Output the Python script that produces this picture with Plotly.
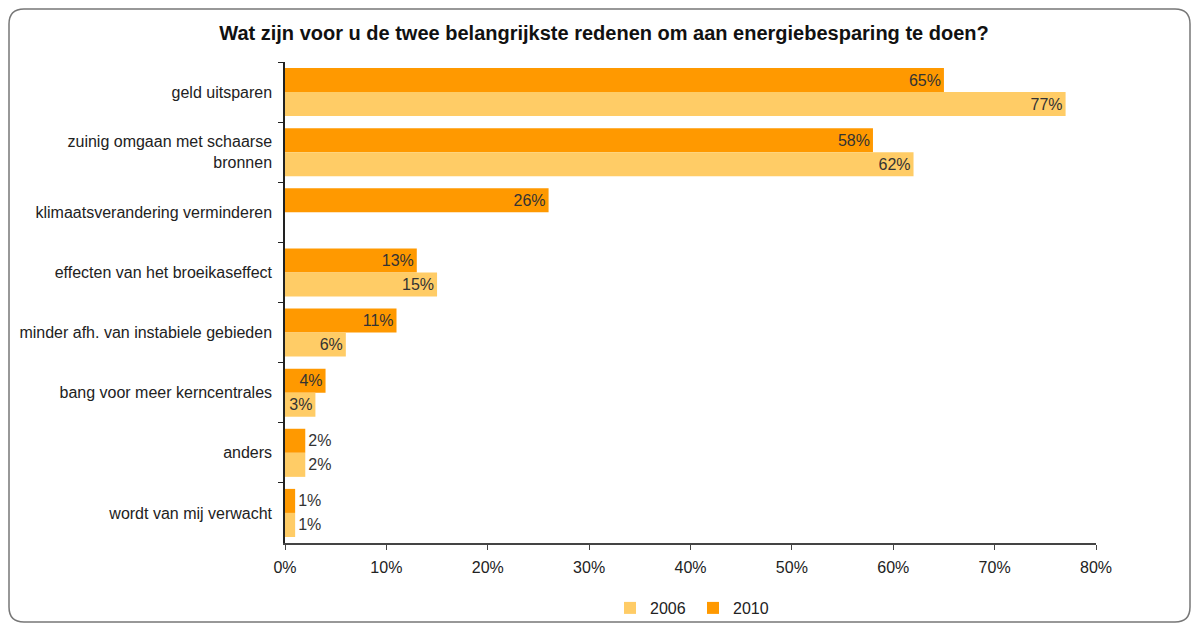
import plotly.graph_objects as go

categories = [
    "geld uitsparen",
    "zuinig omgaan met schaarse<br>bronnen",
    "klimaatsverandering verminderen",
    "effecten van het broeikaseffect",
    "minder afh. van instabiele gebieden",
    "bang voor meer kerncentrales",
    "anders",
    "wordt van mij verwacht",
]
values_2006 = [77, 62, None, 15, 6, 3, 2, 1]
values_2010 = [65, 58, 26, 13, 11, 4, 2, 1]
x_ticks = [0, 10, 20, 30, 40, 50, 60, 70, 80]

W, H = 1196, 626
L, R, T, B = 285, 1096, 62, 543
FONT = "Liberation Sans, Arial, sans-serif"


def px(x):
    return (x - L) / (R - L)


def py(y):
    return (B - y) / (B - T)


def labels(vals):
    return [f"{v}%" if v is not None else "" for v in vals]


def positions(vals):
    return ["inside" if (v is not None and v >= 3) else "outside" for v in vals]


fig = go.Figure()
fig.add_trace(go.Bar(
    y=categories, x=values_2010, name="2010", orientation="h",
    marker=dict(color="#FF9900", line=dict(width=0)),
    text=labels(values_2010), textposition=positions(values_2010),
    insidetextanchor="end", constraintext="none",
    textfont=dict(size=16, color="#333333", family=FONT),
    cliponaxis=False,
))
fig.add_trace(go.Bar(
    y=categories, x=values_2006, name="2006", orientation="h",
    marker=dict(color="#FFCC66", line=dict(width=0)),
    text=labels(values_2006), textposition=positions(values_2006),
    insidetextanchor="end", constraintext="none",
    textfont=dict(size=16, color="#333333", family=FONT),
    cliponaxis=False,
))

# rounded border around the chart
x0, x1, y0, y1, r = px(9), px(1190), py(9), py(622), 15
rx, ry = r / (R - L), r / (B - T)
path = (
    f"M {x0+rx},{y0} L {x1-rx},{y0} Q {x1},{y0} {x1},{y0-ry} "
    f"L {x1},{y1+ry} Q {x1},{y1} {x1-rx},{y1} "
    f"L {x0+rx},{y1} Q {x0},{y1} {x0},{y1+ry} "
    f"L {x0},{y0-ry} Q {x0},{y0} {x0+rx},{y0} Z"
)

fig.update_layout(
    width=W, height=H,
    margin=dict(l=L, r=W - R, t=T, b=H - B, autoexpand=False),
    paper_bgcolor="white", plot_bgcolor="white",
    barmode="group", bargap=0.2, bargroupgap=0,
    font=dict(family=FONT, size=16, color="#222222"),
    title=dict(
        text="<b>Wat zijn voor u de twee belangrijkste redenen om aan energiebesparing te doen?</b>",
        x=px(604), xref="paper", xanchor="center",
        y=1 - 33 / H, yanchor="middle",
        font=dict(size=20, color="#111111"),
    ),
    xaxis=dict(
        range=[0, 80], tickvals=x_ticks, ticktext=[f"{t}%" for t in x_ticks],
        showgrid=False, zeroline=False, showline=True, linecolor="#444444", linewidth=1.5,
        ticks="outside", ticklen=5, tickcolor="#444444", ticklabelstandoff=4,
        tickfont=dict(size=16, color="#222222"), automargin=False,
    ),
    yaxis=dict(
        autorange="reversed", showgrid=False, showline=True, linecolor="#222222", linewidth=1.5,
        ticks="outside", ticklen=5, tickcolor="#222222", tickson="boundaries",
        ticklabelstandoff=8, automargin=False,
        tickfont=dict(size=16, color="#222222"),
    ),
    legend=dict(
        orientation="h", x=px(693), xanchor="center", y=py(608), yanchor="middle",
        traceorder="reversed", font=dict(size=16, color="#222222"),
        itemwidth=30, entrywidth=38, entrywidthmode="pixels",
        bgcolor="rgba(0,0,0,0)",
    ),
    shapes=[dict(type="path", xref="paper", yref="paper", path=path,
                 line=dict(color="#777777", width=1.5), layer="below")],
)

fig.write_html("out.html", config={"displayModeBar": False},
               post_script="document.body.style.margin='0px';")
